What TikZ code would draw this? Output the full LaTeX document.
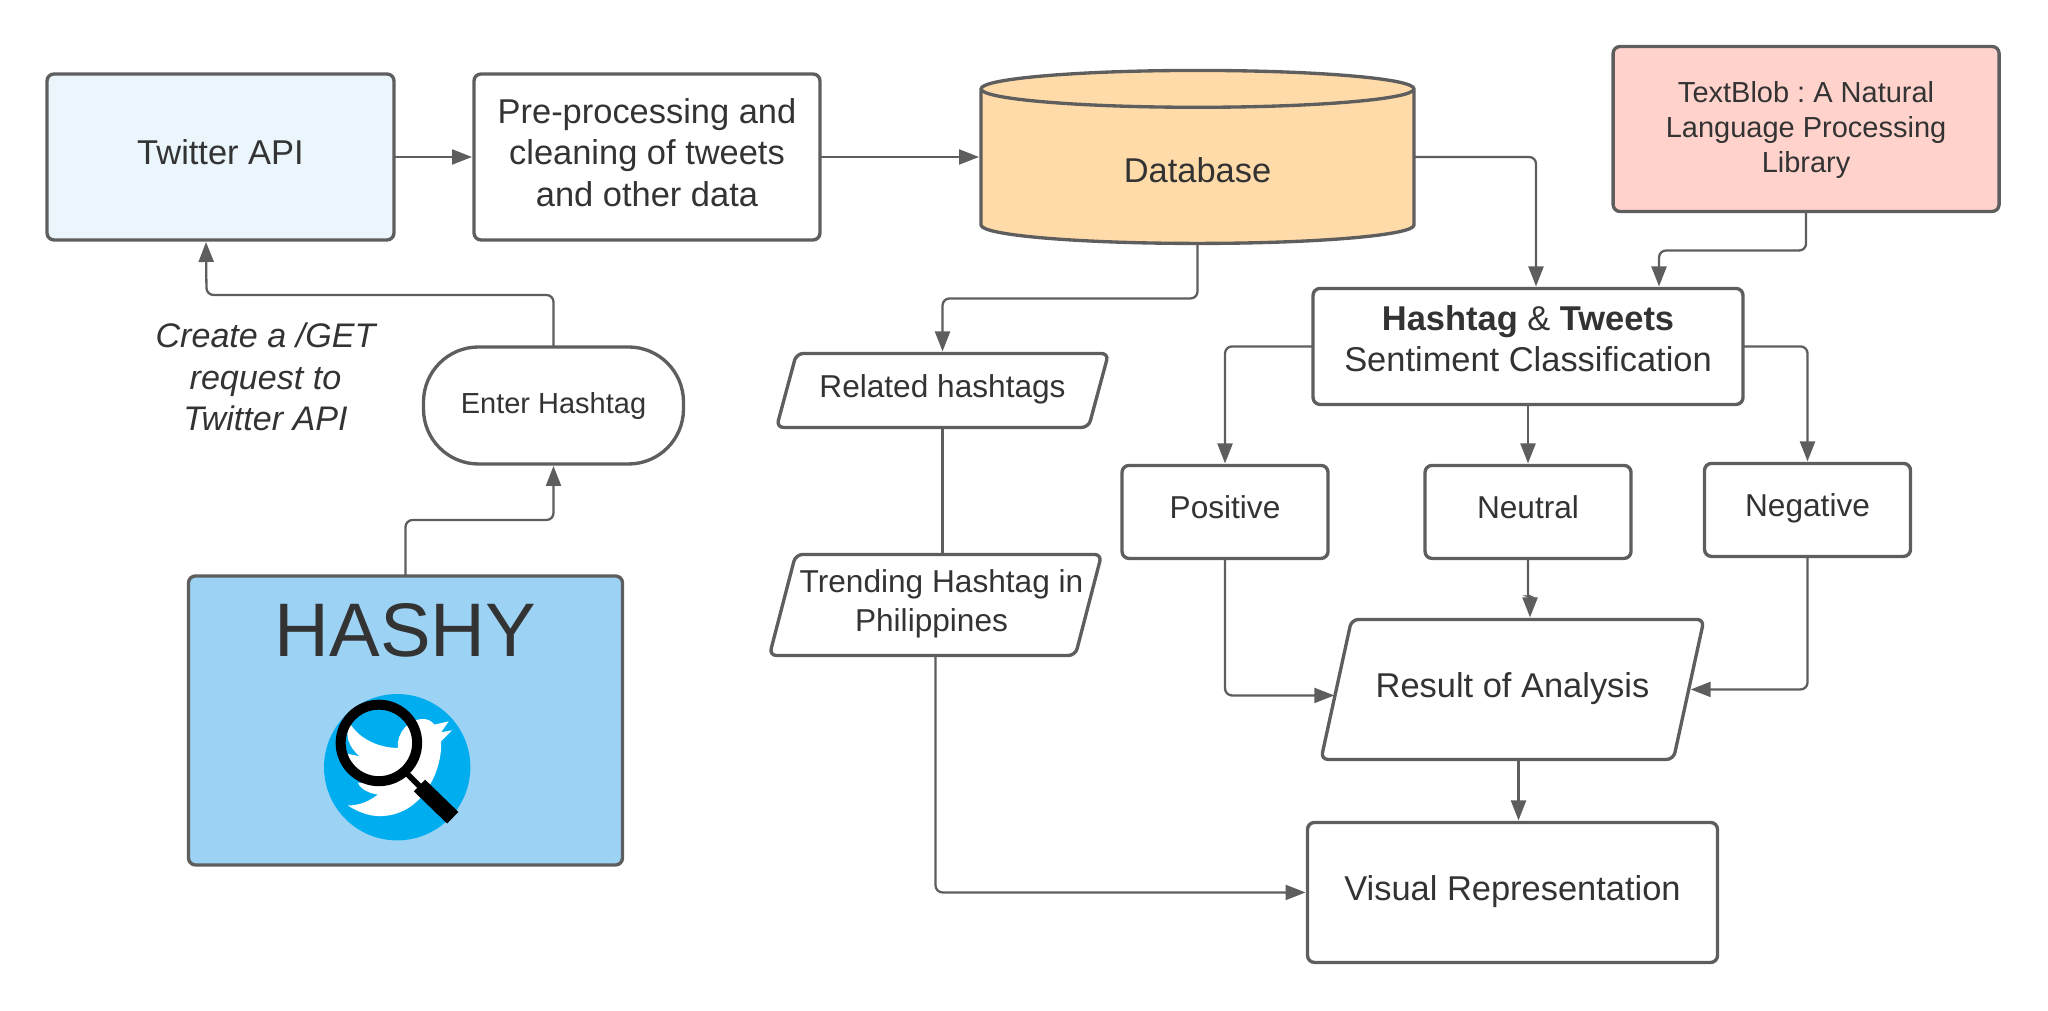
\documentclass[tikz,border=0pt]{standalone}
\usepackage{fontspec}
\setmainfont{Liberation Sans}
\frenchspacing
\usepackage{tikz}
\usetikzlibrary{arrows.meta, positioning, calc, shapes.geometric}
\definecolor{linegray}{HTML}{5E5E5E}
\definecolor{textgray}{HTML}{333333}
\definecolor{twitterblue}{HTML}{EAF5FC}
\definecolor{hashyblue}{HTML}{9CD3F5}
\definecolor{logoblue}{HTML}{00ADEF}
\definecolor{dborange}{HTML}{FFDBA9}
\definecolor{blobred}{HTML}{FFD3CC}

\begin{document}
\begin{tikzpicture}[
	node distance=0.8cm and 0.8cm,
	main_box/.style={rectangle, draw=linegray, line width=0.95pt, rounded corners=0.07cm, outer sep=0pt, inner sep=0pt, align=center, text=textgray, text depth=0.09cm, font=\fontsize{9.8}{11.7}\selectfont},
	para_box/.style 2 args={main_box, trapezium, trapezium left angle=#1, trapezium right angle=#2, trapezium stretches body=true},
	small_box/.style={main_box, minimum width=2.06cm, minimum height=0.93cm, font=\fontsize{9}{11}\selectfont},
	flow_line/.style={draw=linegray, line width=0.65pt, rounded corners=0.07cm},
	flow_arrow/.style={flow_line, shorten >=0.02cm, -{Triangle[length=0.2cm, width=0.15cm]}}
	]
	
	\useasboundingbox (0,0) rectangle (20.48,10.11);
	
	% --- TOP ROW ---
	\node[main_box, fill=twitterblue, minimum width=3.47cm, minimum height=1.66cm] (twitter) at (2.205,8.54) {Twitter API};
	\node[main_box, minimum width=3.46cm, minimum height=1.66cm] (preproc) [right=0.80cm of twitter] {Pre-processing and\\cleaning of tweets\\and other data};
	\node[main_box, cylinder, sharp corners, shape border rotate=90, aspect=0.25, fill=dborange, minimum width=4.33cm, minimum height=1.73cm, text height=0.31cm, text depth=0cm] (database) [right=1.61cm of preproc, yshift=-0.10cm] {Database};
	\node[main_box, fill=blobred, minimum width=3.86cm, minimum height=1.65cm, text depth=0.04cm, font=\fontsize{8.25}{10}\selectfont] (textblob) [right=1.99cm of database, yshift=0.38cm] {TextBlob : A Natural\\Language Processing\\Library};
	
	% --- LEFT SIDE ---
	\node[main_box, rounded corners=0.55cm, minimum width=2.60cm, minimum height=1.17cm, text depth=0.04cm, font=\fontsize{8.25}{10}\selectfont] (enter) [below=1.07cm of twitter, xshift=3.33cm] {Enter Hashtag};
	\node[main_box, fill=hashyblue, minimum width=4.34cm, minimum height=2.89cm] (hashy) [below=1.12cm of enter, xshift=-1.48cm] {};
	\node[text=textgray, inner sep=0pt, font=\fontsize{21.6}{25}\selectfont] (title) [below=0.27cm of hashy.north] {HASHY};
	\node[text=textgray, align=center, inner sep=0pt, font=\itshape\fontsize{9.7}{11.7}\selectfont] (request) [below=0.825cm of twitter, xshift=0.45cm] {Create a /GET\\request to\\Twitter API};
	
	% --- MIDDLE ---
	\node[para_box={58}{122}, minimum width=3.32cm, minimum height=0.74cm, font=\fontsize{9}{11}\selectfont] (related) [below=1.10cm of database, xshift=-2.55cm] {Related hashtags};
	\node[para_box={69.5}{110.5}, minimum width=3.30cm, minimum height=1.01cm, font=\fontsize{9}{10.9}\selectfont] (trending) [below=1.27cm of related, xshift=-0.07cm] {\hspace*{0.04cm}Trending Hashtag in\hspace*{-0.08cm}\\\hspace*{-0.08cm}Philippines};
	
	% --- RIGHT SIDE ---
	\node[main_box, minimum width=4.30cm, minimum height=1.16cm, text depth=0.16cm] (hashtag) [below=0.45cm of database, xshift=3.305cm] {\textbf{Hashtag} \& \textbf{Tweets}\\Sentiment Classification};
	\node[small_box] (neutral) [below=0.61cm of hashtag] {Neutral};
	\node[small_box] (positive) [below=0.61cm of hashtag, xshift=-3.03cm] {Positive};
	\node[small_box] (negative) [below=0.59cm of hashtag, xshift=2.795cm] {Negative};
	\node[para_box={48}{132}, minimum width=3.83cm, minimum height=1.40cm] (result) [below=0.61cm of neutral, xshift=-0.155cm] {Result of Analysis};
	\node[main_box, minimum width=4.10cm, minimum height=1.40cm] (visual) [below=0.63cm of result] {Visual Representation};
	
	% --- LOGO ---
	\begin{scope}[shift={(1.80cm,4.41cm)}, x=0.00333cm, y=-0.00333cm]
		\fill[logoblue] (653,593) circle (220);
		\fill[white] (510,460) .. controls (540,510) and (600,535) .. (655,535) .. controls (650,490) and (690,445) .. (735,448) .. controls (750,450) and (760,458) .. (765,465) -- (808,455) -- (785,488) -- (818,482) -- (785,515) .. controls (790,600) and (730,740) .. (600,740) .. controls (565,740) and (530,725) .. (505,708) .. controls (540,708) and (570,695) .. (595,675) .. controls (565,672) and (540,655) .. (535,640) -- (560,640) .. controls (530,625) and (510,590) .. (505,553) -- (540,560) .. controls (505,530) and (495,495) .. (510,460) -- cycle;
		\draw[black, line width=2.85pt] (598,520) circle (115);
		\draw[black, line width=1.6pt] (680,610) -- (730,660);
		\draw[black, line width=4.6pt] (720,648) -- (820,745);
	\end{scope}
	
	% --- CONNECTORS ---
	\draw[flow_arrow] (twitter) -- (preproc);
	\draw[flow_arrow] (preproc) -- (preproc.east -| database.west);
	\draw[flow_arrow] (database.east |- preproc.east) -| ([xshift=0.08cm]hashtag.north);
	\draw[flow_arrow] (textblob.south) -- ++(0,-0.39) -| ([xshift=1.31cm]hashtag.north);
	\draw[flow_arrow] (database.south) -- ++(0,-0.55) -| (related.north);
	\draw[flow_line] (related.south) -- (related.south |- trending.north);
	\draw[flow_arrow] (trending.south) |- (visual.west);
	\draw[flow_arrow] (hashtag.west) -| (positive.north);
	\draw[flow_arrow] (hashtag.east) -| (negative.north);
	\draw[flow_arrow] (hashtag.south) -- (neutral.north);
	\draw[flow_arrow, rounded corners=0.02cm] (neutral.south) -- ++(0,-0.38) -| ([xshift=0.02cm]neutral.south |- result.north);
	\draw[flow_arrow] (positive.south) |- ([yshift=-0.06cm]result.west);
	\draw[flow_arrow] (negative.south) |- (result.east);
	\draw[flow_arrow] ([xshift=0.06cm]result.south) -- ([xshift=0.06cm]result.south |- visual.north);
	\draw[flow_arrow] (enter.north) |- ++(-3.47,0.52) -- ([xshift=-0.145cm]twitter.south);
	\draw[flow_arrow] (hashy.north) -- ++(0,0.56) -| (enter.south);
	
\end{tikzpicture}
\end{document}
